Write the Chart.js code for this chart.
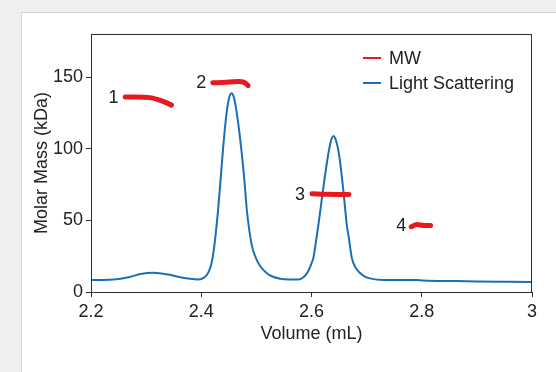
<!DOCTYPE html>
<html>
<head>
<meta charset="utf-8">
<script src="https://cdn.jsdelivr.net/npm/chart.js@4.4.1/dist/chart.umd.min.js"></script>
<style>
  html, body { margin: 0; padding: 0; background: #efefee; overflow: hidden; }
  #card {
    position: absolute; left: 21px; top: 12px; width: 600px; height: 400px;
    background: #fff; border: 1px solid #d2d2d2;
  }
  #grafico { position: absolute; left: 0; top: 0; }
</style>
</head>
<body>
<div id="card"></div>
<canvas id="grafico" width="556" height="372"></canvas>
<script>
// Light scattering trace (volume in mL, signal on the kDa axis)
const lsVolume = [2.20, 2.24, 2.27, 2.29, 2.313, 2.34, 2.362, 2.38, 2.395, 2.405, 2.412, 2.418, 2.423, 2.430, 2.435,
    2.440, 2.446, 2.451, 2.455, 2.459, 2.464, 2.472, 2.478, 2.483, 2.492, 2.500, 2.507, 2.518, 2.528, 2.543,
    2.560, 2.576, 2.586, 2.594, 2.600, 2.6035, 2.608, 2.6126, 2.6205, 2.6295, 2.635, 2.6398, 2.645, 2.6507,
    2.658, 2.664, 2.668, 2.673, 2.680, 2.686, 2.697, 2.706, 2.730, 2.773, 2.790, 2.803, 2.864, 2.90, 2.96, 3.00];
const lsSignal = [8.3, 8.7, 10.5, 12.5, 13.4, 12.2, 10.3, 9.2, 8.8, 10, 13, 19, 30, 55, 78,
    102, 125, 136, 138.6, 136, 126, 102, 79, 56, 32, 23, 18, 13.5, 11, 9.3,
    8.8, 8.8, 10.5, 14.5, 20, 24, 35, 47, 70, 94, 105, 108.8, 105, 94,
    70, 47, 37, 24, 17, 14, 10.8, 9.5, 8.3, 8.3, 8.4, 8.0, 7.6, 7.3, 7.1, 7.0];

// MW across the four peaks (null = gap between peaks)
const mwVolume = [2.262, 2.28, 2.307, 2.328, 2.346, null,
    2.421, 2.44, 2.467, 2.479, 2.485, null,
    2.601, 2.63, 2.668, null,
    2.781, 2.791, 2.805, 2.816];
const mwMass = [136, 136, 135.6, 133.3, 130.4, null,
    146, 146.2, 146.8, 146, 144, null,
    68.6, 68.2, 68, null,
    45.5, 47.1, 46.4, 46.4];

// peak numbers
const peakLabels = ['1', '2', '3', '4'];
const peakVolume = [2.241, 2.400, 2.579, 2.763];
const peakMass = [135.5, 146.1, 68.0, 46.0];

const xTicks = [2.2, 2.4, 2.6, 2.8, 3];
const xTickLabels = ['2.2', '2.4', '2.6', '2.8', '3'];
const yTicks = [0, 50, 100, 150];

const FONT = 'Liberation Sans, Arial, Helvetica, sans-serif';
const TXT = '#222';
const RED = '#e8191e';
const BLUE = '#1a6fb5';

const pts = (xs, ys) => xs.map((x, i) => ({ x: x === null ? NaN : x, y: ys[i] }));

// moldura + legenda + números dos picos
const extras = {
    id: 'extras',
    afterDatasetsDraw(chart) {
        const { ctx, chartArea: a, scales } = chart;
        ctx.save();
        ctx.strokeStyle = '#2e2e2e';
        ctx.lineWidth = 1;
        ctx.strokeRect(a.left + 0.5, a.top + 0.5, a.right - a.left - 1, a.bottom - a.top);

        ctx.font = '18px ' + FONT;
        ctx.fillStyle = TXT;
        ctx.textAlign = 'center';
        ctx.textBaseline = 'middle';
        peakLabels.forEach((t, i) => {
            ctx.fillText(t, scales.x.getPixelForValue(peakVolume[i]), scales.y.getPixelForValue(peakMass[i]));
        });

        ctx.textAlign = 'left';
        const x0 = a.right - 169;
        chart.data.datasets.forEach((ds, i) => {
            const y = a.top + 24 + i * 25;
            ctx.strokeStyle = ds.borderColor;
            ctx.lineWidth = 2;
            ctx.beginPath();
            ctx.moveTo(x0, y);
            ctx.lineTo(x0 + 18, y);
            ctx.stroke();
            ctx.fillText(ds.label, x0 + 26, y + 1);
        });
        ctx.restore();
    }
};

new Chart(document.getElementById('grafico').getContext('2d'), {
    type: 'line',
    data: {
        datasets: [{
            label: 'MW',
            data: pts(mwVolume, mwMass),
            borderColor: RED,
            borderWidth: 5,
            borderCapStyle: 'round',
            borderJoinStyle: 'round',
            pointRadius: 0,
            spanGaps: false,
            cubicInterpolationMode: 'monotone'
        }, {
            label: 'Light Scattering',
            data: pts(lsVolume, lsSignal),
            borderColor: BLUE,
            borderWidth: 2,
            pointRadius: 0,
            cubicInterpolationMode: 'monotone'
        }]
    },
    plugins: [extras],
    options: {
        responsive: false,
        animation: false,
        devicePixelRatio: 1,
        layout: { padding: { left: 0, top: 34, right: 24, bottom: 0 } },
        plugins: { legend: { display: false }, tooltip: { enabled: false } },
        scales: {
            x: {
                type: 'linear',
                min: 2.2, max: 3,
                afterFit: s => { s.height = 80; },
                afterBuildTicks: s => { s.ticks = xTicks.map(v => ({ value: v })); },
                ticks: {
                    color: TXT, font: { family: FONT, size: 18 }, padding: 4, maxRotation: 0,
                    callback: (v, i) => xTickLabels[i]
                },
                grid: { drawOnChartArea: false, tickLength: 5, color: '#2e2e2e' },
                border: { color: '#2e2e2e' },
                title: {
                    display: true, text: 'Volume (mL)', color: TXT,
                    font: { family: FONT, size: 18 }, padding: { top: 0, bottom: 27 }
                }
            },
            y: {
                min: 0, max: 180,
                afterFit: s => { s.width = 91; },
                afterBuildTicks: s => { s.ticks = yTicks.map(v => ({ value: v })); },
                ticks: { color: TXT, font: { family: FONT, size: 18 }, padding: 3 },
                grid: { drawOnChartArea: false, tickLength: 5, color: '#2e2e2e' },
                border: { color: '#2e2e2e' },
                title: {
                    display: true, text: 'Molar Mass (kDa)', color: TXT,
                    font: { family: FONT, size: 18 }, padding: { top: 31, bottom: 0 }
                }
            }
        }
    }
});
</script>
</body>
</html>
